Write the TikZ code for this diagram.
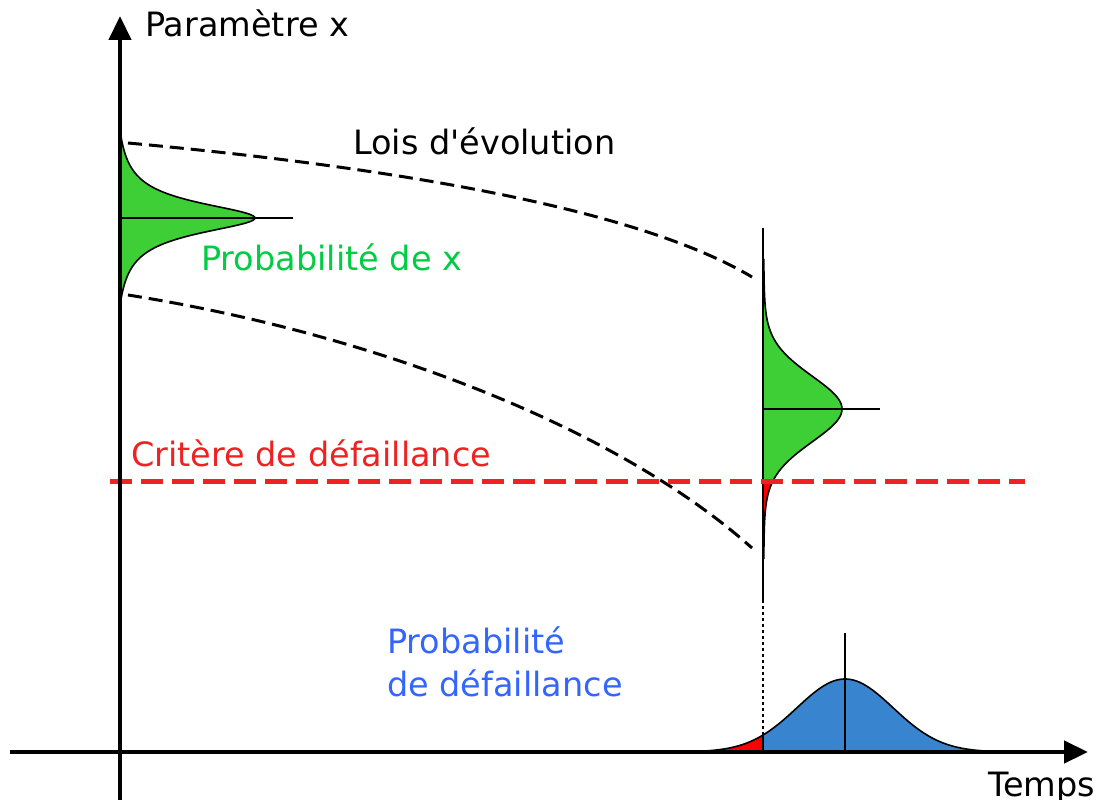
\documentclass[tikz,border=0pt]{standalone}
\usepackage{fontspec}
\newfontfamily\dvsans{DejaVu Sans}
\usetikzlibrary{arrows.meta}
\definecolor{txtgreen}{RGB}{0,204,68}
\definecolor{fillgreen}{RGB}{62,206,54}
\definecolor{critred}{RGB}{238,34,34}
\definecolor{pured}{RGB}{255,0,0}
\definecolor{txtblue}{RGB}{51,102,255}
\definecolor{fillblue}{RGB}{56,132,206}
\tikzset{
  axis/.style={line width=4.5pt,-{Triangle[length=24pt,width=22pt]}},
  evol/.style={line width=3pt,dash pattern=on 14pt off 7pt},
  crit/.style={line width=5pt,critred,dash pattern=on 22pt off 9pt},
  thin/.style={line width=1.6pt},
  lbl/.style={inner sep=0pt,font=\dvsans\fontsize{33.5}{40}\selectfont}
}
\begin{document}
\begin{tikzpicture}[x=1pt,y=-1pt]
\useasboundingbox (0,0) rectangle (1100,800);
% left distribution
\fill[fillgreen] (120,130) -- plot[domain=-88:88,samples=120,variable=\t] ({120+135*((1/(1+(\t/19)^2))-0.0445)/0.9555},{218+\t}) -- cycle;
\draw[thin] plot[domain=-88:88,samples=120,variable=\t] ({120+135*((1/(1+(\t/19)^2))-0.0445)/0.9555},{218+\t});
\draw[thin] (120,218) -- (293,218);
% right distribution
\fill[fillgreen] (763,259) -- plot[domain=-150:71,samples=120,variable=\t] ({763+79*(0.85*exp(-0.5*(\t/34)^2)+0.15/(1+(\t/40)^2))},{409+\t}) -- (763,480) -- cycle;
\fill[pured] (763,480) -- plot[domain=71:150,samples=60,variable=\t] ({763+79*(0.85*exp(-0.5*(\t/34)^2)+0.15/(1+(\t/40)^2))},{409+\t}) -- cycle;
\draw[thin] plot[domain=-150:150,samples=200,variable=\t] ({763+79*(0.85*exp(-0.5*(\t/34)^2)+0.15/(1+(\t/40)^2))},{409+\t});
\draw[thin] (763,228) -- (763,600);
\draw[line width=1.2pt,dashed] (763,600) -- (763,735);
\draw[thin] (763,409) -- (880,409);
\draw[thin] (763,480) -- (778,480);
% bottom distribution
\fill[pured] (690,752) -- plot[domain=690:763,samples=60,variable=\x] ({\x},{752-73*exp(-0.5*((\x-845)/48)^2)}) -- (763,752) -- cycle;
\fill[fillblue] (763,752) -- plot[domain=763:1000,samples=120,variable=\x] ({\x},{752-73*exp(-0.5*((\x-845)/48)^2)}) -- cycle;
\draw[thin] plot[domain=690:1000,samples=200,variable=\x] ({\x},{752-73*exp(-0.5*((\x-845)/48)^2)});
\draw[thin] (763,735) -- (763,752);
\draw[thin] (845,633) -- (845,752);
% evolution curves
\draw[evol] (128,143) .. controls (400,168) and (640,210) .. (752,277);
\draw[evol] (128,295) .. controls (380,335) and (620,430) .. (752,548);
% failure criterion
\draw[crit] (110,481) -- (1025,481);
% axes
\coordinate (yb) at (120,800);
\coordinate (yt) at (120,16);
\coordinate (xl) at (10,752);
\coordinate (xr) at (1088,752);
\draw[axis] (yb) -- (yt);
\draw[axis] (xl) -- (xr);
% labels
\node[lbl,anchor=base west] (param) at (145,37) {Paramètre x};
\node[lbl,anchor=base west] (lois) at (353,154) {Lois d'évolution};
\node[lbl,anchor=base west,text=txtgreen] (probx) at (201,270) {Probabilité de x};
\node[lbl,anchor=base west,text=critred] (crit) at (131,466) {Critère de défaillance};
\node[lbl,anchor=base west,text=txtblue] (probd1) at (387,653) {Probabilité};
\node[lbl,anchor=base west,text=txtblue] (probd2) at (387,696) {de défaillance};
\node[lbl,anchor=base west] (temps) at (988,796) {Temps};
\end{tikzpicture}
\end{document}
